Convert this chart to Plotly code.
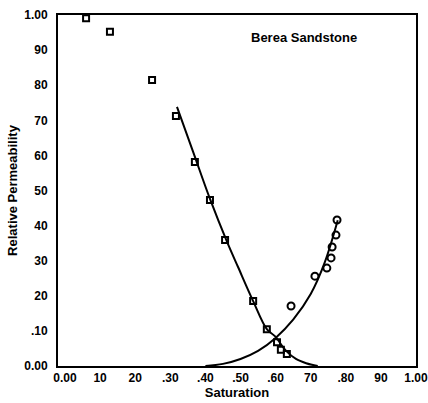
import plotly.graph_objects as go

# Measured data (saturation fraction, relative permeability)
sat_a = [0.060, 0.128, 0.248, 0.316, 0.370, 0.413, 0.456, 0.536, 0.575, 0.604, 0.615, 0.632]
kr_a = [0.991, 0.952, 0.815, 0.712, 0.581, 0.473, 0.359, 0.185, 0.105, 0.068, 0.046, 0.034]

sat_b = [0.644, 0.712, 0.746, 0.758, 0.761, 0.772, 0.775]
kr_b = [0.171, 0.256, 0.279, 0.308, 0.339, 0.373, 0.416]

# Fitted curves
fit_a_sat = [0.319, 0.365, 0.413, 0.462, 0.493, 0.536, 0.575, 0.598, 0.630, 0.658, 0.687, 0.720]
fit_a_kr = [0.738, 0.610, 0.476, 0.353, 0.282, 0.185, 0.105, 0.085, 0.043, 0.020, 0.008, 0.0]

fit_b_sat = [0.40, 0.45, 0.50, 0.55, 0.60, 0.65, 0.70, 0.74, 0.777]
fit_b_kr = [0.0, 0.006, 0.020, 0.043, 0.080, 0.132, 0.205, 0.295, 0.415]

x_tickvals = [0.0, 0.1, 0.2, 0.3, 0.4, 0.5, 0.6, 0.7, 0.8, 0.9, 1.0]
x_ticktext = ["0.00", "10", "20", ".30", ".40", ".50", ".60", "70", ".80", "90", "1.00"]
y_tickvals = [0.0, 0.1, 0.2, 0.3, 0.4, 0.5, 0.6, 0.7, 0.8, 0.9, 1.0]
y_ticktext = ["0.00", ".10", "20", "30", "40", "50", "60", "70", "80", "90", "1.00"]

fam = "Liberation Sans, Arial, sans-serif"
tickfont = dict(family=fam, size=12, color="black", weight="bold")
titlefont = dict(family=fam, size=13, color="black", weight="bold")

fig = go.Figure()
fig.add_trace(go.Scatter(x=fit_a_sat, y=fit_a_kr, mode="lines", line=dict(color="black", width=2, shape="spline"),
                         showlegend=False, hoverinfo="skip"))
fig.add_trace(go.Scatter(x=fit_b_sat, y=fit_b_kr, mode="lines", line=dict(color="black", width=2, shape="spline"),
                         showlegend=False, hoverinfo="skip"))
fig.add_trace(go.Scatter(x=sat_a, y=kr_a, mode="markers",
                         marker=dict(symbol="square-open", size=6, color="black", line=dict(width=2)),
                         showlegend=False))
fig.add_trace(go.Scatter(x=sat_b, y=kr_b, mode="markers",
                         marker=dict(symbol="circle-open", size=7, color="black", line=dict(width=2)),
                         showlegend=False))

fig.update_layout(
    width=428, height=403,
    margin=dict(l=58, r=12, t=15, b=37),
    paper_bgcolor="white", plot_bgcolor="white",
    font=tickfont,
    xaxis=dict(range=[-0.02, 1.0], tickvals=x_tickvals, ticktext=x_ticktext, showgrid=False, zeroline=False,
               showline=True, linecolor="black", linewidth=2, mirror=True, ticks="", tickfont=tickfont,
               ticklabeloverflow="allow",
               automargin=False, title=dict(text="Saturation", font=titlefont, standoff=2)),
    yaxis=dict(range=[0.0, 1.0], tickvals=y_tickvals, ticktext=y_ticktext, showgrid=False, zeroline=False,
               showline=True, linecolor="black", linewidth=2, mirror=True, ticks="", tickfont=tickfont,
               ticklabelstandoff=6, automargin=False, ticklabeloverflow="allow",
               title=dict(text="Relative Permeability", font=titlefont, standoff=4)),
    annotations=[dict(x=0.68, y=0.935, xref="x", yref="y", text="Berea Sandstone", showarrow=False,
                      font=titlefont)],
)

fig.write_html("out.html")
